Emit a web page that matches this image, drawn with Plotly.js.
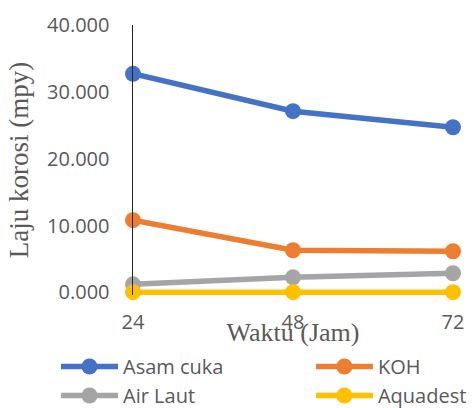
<!DOCTYPE html>
<html>
<head>
<meta charset="utf-8">
<script src="https://cdn.plot.ly/plotly-3.0.1.min.js"></script>
<style>html,body{margin:0;padding:0;background:#fff;}#chart{width:473px;height:408px;}</style>
</head>
<body>
<div id="chart"></div>
<script>
const waktu = [24, 48, 72];
const asamCuka = [32700, 27100, 24700];
const koh = [10800, 6300, 6150];
const airLaut = [1200, 2250, 2850];
const aquadest = [30, 30, 30];
const seriesNames = ['Asam cuka', 'KOH', 'Air Laut', 'Aquadest'];
const seriesColors = ['#4472C4', '#ED7D31', '#A5A5A5', '#FFC000'];
const seriesValues = [asamCuka, koh, airLaut, aquadest];
const seriesLegend = ['legend', 'legend2', 'legend', 'legend2'];

const traces = seriesValues.map((vals, i) => ({
  x: waktu,
  y: vals,
  name: seriesNames[i],
  type: 'scatter',
  mode: 'lines+markers',
  line: {color: seriesColors[i], width: 5.5},
  marker: {color: seriesColors[i], size: 16},
  cliponaxis: false,
  legend: seriesLegend[i]
}));

const legendBase = {
  orientation: 'v',
  xref: 'paper',
  yref: 'container',
  xanchor: 'left',
  y: 0.1495,
  yanchor: 'top',
  itemwidth: 57,
  font: {size: 20, color: '#595959'},
  tracegroupgap: 0,
  bgcolor: 'rgba(0,0,0,0)'
};

const layout = {
  width: 473,
  height: 408,
  margin: {l: 133, r: 20, t: 25, b: 113.3},
  paper_bgcolor: '#ffffff',
  plot_bgcolor: '#ffffff',
  showlegend: true,
  font: {family: '"Open Sans", sans-serif', color: '#595959', size: 20},
  xaxis: {
    range: [24, 72],
    tickvals: waktu,
    ticktext: waktu.map(String),
    showgrid: false,
    zeroline: false,
    showline: false,
    ticks: '',
    ticklabelstandoff: 13,
    tickfont: {size: 20, color: '#595959'},
    title: {text: 'Waktu (Jam)', font: {family: '"Liberation Serif", "Times New Roman", serif', size: 26, color: '#595959'}, standoff: 4}
  },
  yaxis: {
    range: [-400, 40000],
    tickvals: [0, 10000, 20000, 30000, 40000],
    ticktext: ['0.000', '10.000', '20.000', '30.000', '40.000'],
    showgrid: false,
    zeroline: false,
    showline: true,
    linecolor: '#262626',
    linewidth: 1.5,
    ticks: '',
    ticklabelstandoff: 18,
    tickfont: {size: 20, color: '#595959'},
    title: {text: 'Laju korosi (mpy)', font: {family: '"Liberation Serif", "Times New Roman", serif', size: 27, color: '#595959'}, standoff: 10}
  },
  legend: Object.assign({}, legendBase, {x: -0.2406}),
  legend2: Object.assign({}, legendBase, {x: 0.556})
};

Plotly.newPlot('chart', traces, layout, {displayModeBar: false, staticPlot: true});
</script>
</body>
</html>
